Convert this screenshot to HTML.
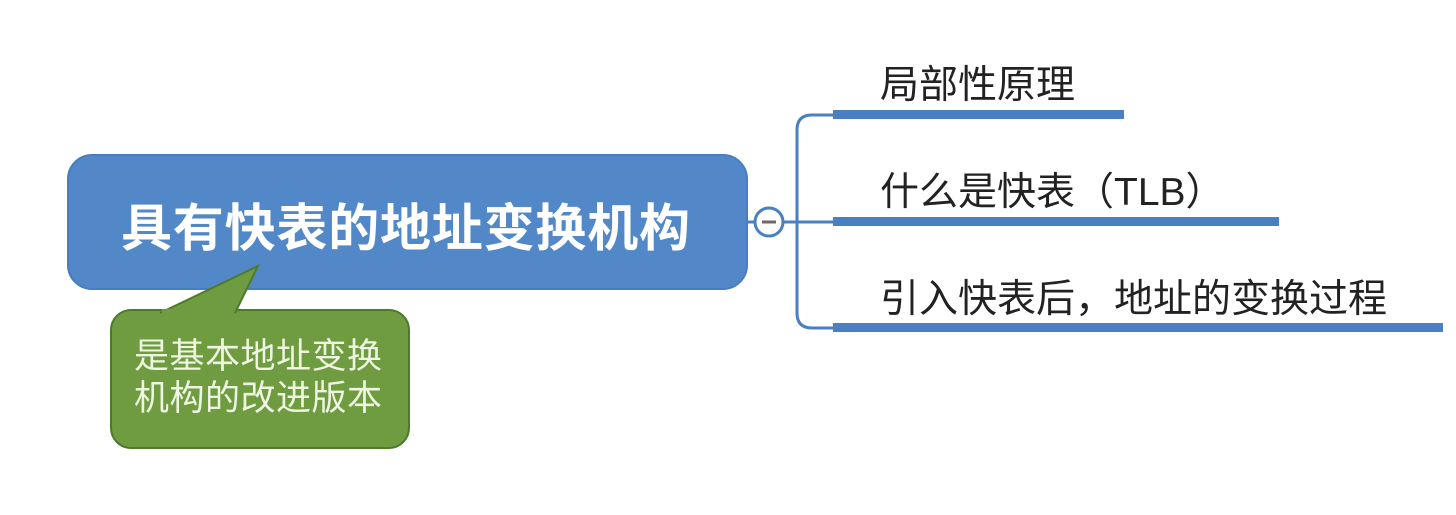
<!DOCTYPE html>
<html><head><meta charset="utf-8"><style>
body{margin:0;width:1456px;height:515px;background:#fff;overflow:hidden;position:relative;font-family:"Liberation Sans","Noto Sans CJK SC",sans-serif}
.t{position:absolute;white-space:nowrap}
</style></head><body>
<svg width="1456" height="515" style="position:absolute;left:0;top:0">
<rect x="68" y="155" width="679" height="134" rx="24" fill="#5288c8" stroke="#4a7dbd" stroke-width="2"/>
<rect x="111" y="310" width="298" height="138" rx="20" fill="#6f9c40" stroke="#4e7a2a" stroke-width="2"/>
<path d="M160 313 L258 266 L235 313" fill="#6f9c40" stroke="#4e7a2a" stroke-width="2"/>
<rect x="162" y="309" width="71" height="6" fill="#6f9c40"/>
<line x1="747" y1="222" x2="797" y2="222" stroke="#4a7fc1" stroke-width="3"/>
<circle cx="769" cy="222" r="14" fill="#fff" stroke="#4a7fc1" stroke-width="3"/>
<line x1="762" y1="222" x2="776" y2="222" stroke="#6a6a6a" stroke-width="3"/>
<path d="M834 115 H812 Q797 115 797 130 V313 Q797 328 812 328 H834" fill="none" stroke="#4a7fc1" stroke-width="3"/>
<line x1="797" y1="222" x2="834" y2="222" stroke="#4a7fc1" stroke-width="3"/>
<rect x="833" y="110" width="291" height="9" fill="#4a7fc1"/>
<rect x="833" y="217" width="446" height="9" fill="#4a7fc1"/>
<rect x="833" y="323" width="610" height="9" fill="#4a7fc1"/>
</svg>
<div class="t" style="left:121px;top:187px;font-size:51px;font-weight:bold;color:#fff;letter-spacing:0.8px">具有快表的地址变换机构</div>
<div class="t" style="left:134px;top:336px;font-size:35px;line-height:42px;color:#eef5e0;letter-spacing:0.5px">是基本地址变换<br>机构的改进版本</div>
<div class="t" style="left:880px;top:54px;font-size:39px;color:#222">局部性原理</div>
<div class="t" style="left:880px;top:161px;font-size:39px;color:#222">什么是快表（TLB）</div>
<div class="t" style="left:880px;top:268px;font-size:39px;color:#222">引入快表后，地址的变换过程</div>
</body></html>
